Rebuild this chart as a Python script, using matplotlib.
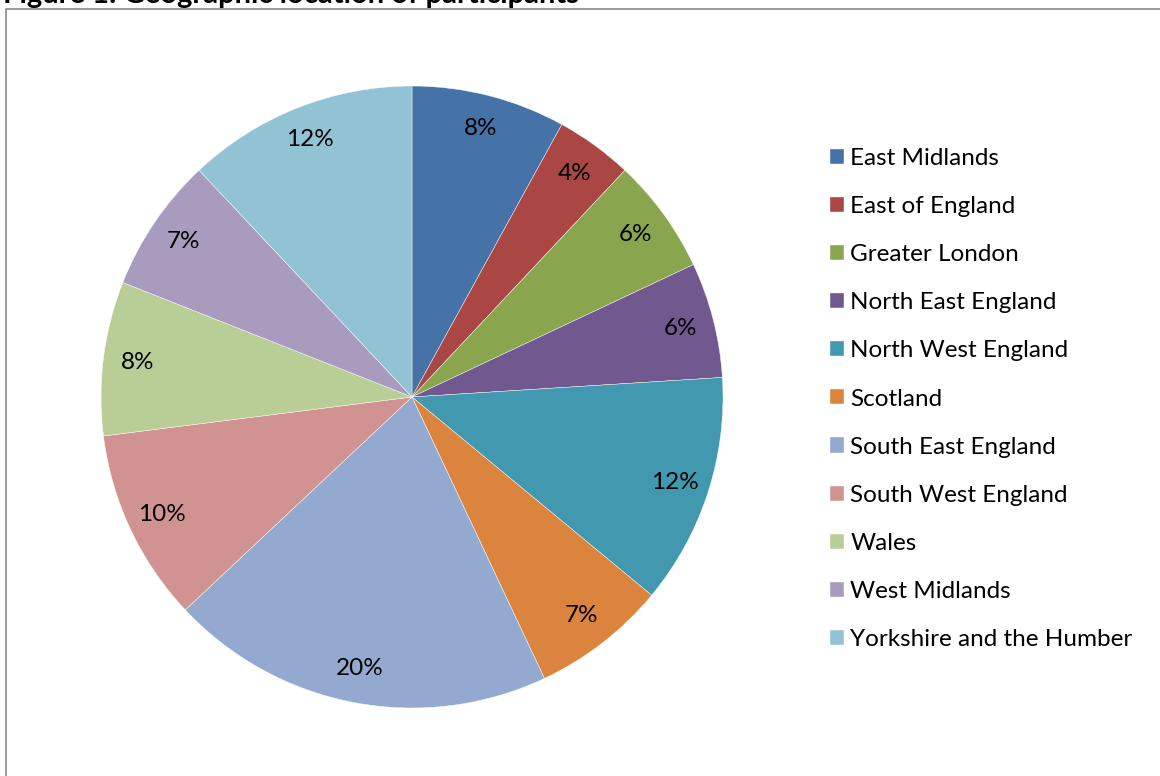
import matplotlib as mpl
mpl.use('Agg')
import matplotlib.pyplot as plt
from matplotlib.patches import Rectangle

# Share of participants by region (percent)
regions = ['East Midlands', 'East of England', 'Greater London',
           'North East England', 'North West England', 'Scotland',
           'South East England', 'South West England', 'Wales',
           'West Midlands', 'Yorkshire and the Humber']
shares = [8, 4, 6, 6, 12, 7, 20, 10, 8, 7, 12]
colours = ['#4572A7', '#AA4643', '#89A54E', '#71588F', '#4198AF', '#DB843D',
           '#93A9CF', '#D19392', '#B9CD96', '#A99BBD', '#92C3D5']

plt.rcParams['font.family'] = ['Lato', 'DejaVu Sans']

W, H = 1160, 776
fig = plt.figure(figsize=(W / 100, H / 100), dpi=100)

# chart-area frame (runs off the right and bottom edges)
fig.add_artist(Rectangle((5.5 / W, -0.05), 1.2, 1 - 9.5 / H + 0.05,
                         transform=fig.transFigure, fill=False,
                         edgecolor='#8a8a8a', lw=1.2))

# caption, mostly cut off at the top
fig.text(3 / W, 1 - 2.5 / H, 'Figure 1: Geographic location of participants',
         fontsize=21, fontweight='bold', va='baseline', ha='left')

ax = fig.add_axes([101 / W, 68 / H, 622 / W, 622 / H])
wedges, texts, pcts = ax.pie(shares, colors=colours, startangle=90,
                             counterclock=False, autopct='%.0f%%',
                             pctdistance=0.89,
                             wedgeprops=dict(edgecolor='white', linewidth=0.3),
                             textprops=dict(fontsize=17.5, color='black'))
ax.set_xlim(-1, 1)
ax.set_ylim(-1, 1)

fig.legend(wedges, regions, loc='upper left',
           bbox_to_anchor=(830 / W, 1 - 148 / H), frameon=False,
           fontsize=17.5, handlelength=0.58, handleheight=0.58,
           handletextpad=0.25, labelspacing=1.115,
           borderpad=0, borderaxespad=0)

fig.savefig('out.png', dpi=100)
